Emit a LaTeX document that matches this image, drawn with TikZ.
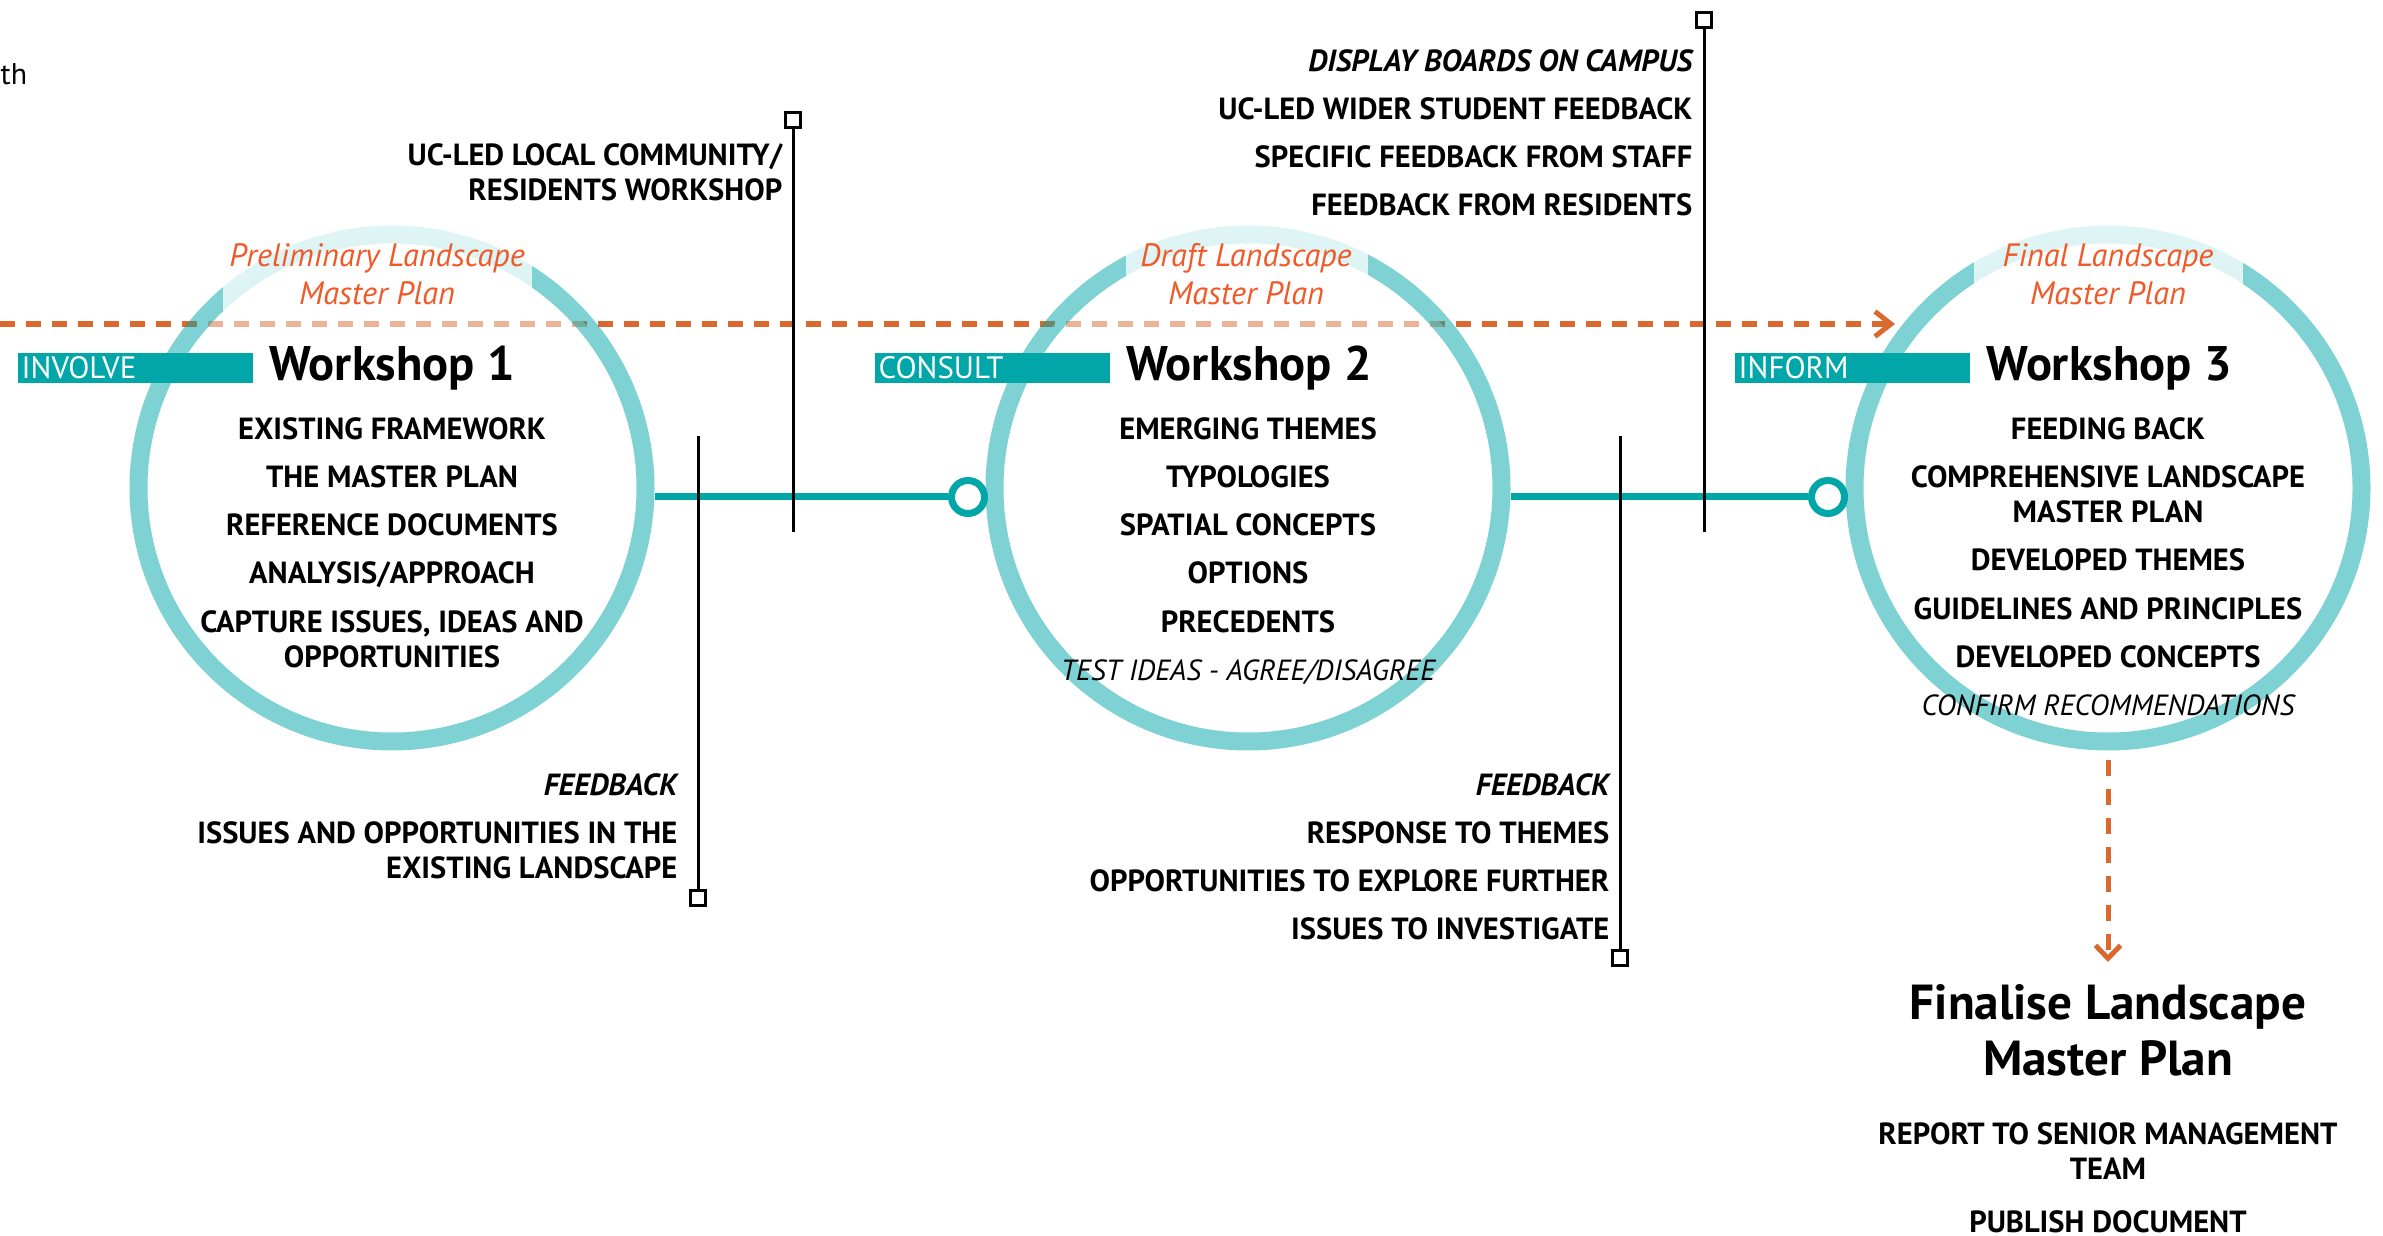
\documentclass[tikz,border=0pt]{standalone}
\usepackage{fontspec}
\setmainfont{PT Sans}
\usetikzlibrary{arrows.meta, positioning}

\definecolor{ucteal}{RGB}{0,166,168}
\definecolor{flow}{RGB}{217,105,47}
\definecolor{plan}{RGB}{240,90,40}

\begin{document}
\begin{tikzpicture}[
        ring/.style={circle, draw=ucteal, draw opacity=.5, line width=0.18cm, fill=white, fill opacity=.5, minimum size=5.07cm, inner sep=0},
        stop/.style={circle, draw=ucteal, line width=0.07cm, fill=white, minimum size=0.33cm, inner sep=0},
        tick/.style={rectangle, draw, line width=0.03cm, fill=white, minimum size=0.15cm, inner sep=0},
        tag/.style={fill=ucteal, text=white, font=\fontsize{8.8}{10}\selectfont, text width=2.27cm, align=left, inner xsep=0.04cm, inner ysep=0, minimum height=0.30cm, anchor=west},
        wstitle/.style={font=\fontsize{13.8}{15}\selectfont\bfseries, inner sep=0, anchor=west},
        plantitle/.style={font=\fontsize{9.2}{10.8}\selectfont\itshape, text=plan, align=center, inner sep=0},
        items/.style={font=\fontsize{8.7}{10}\selectfont\bfseries, align=center, inner sep=0, anchor=north},
        notes/.style={font=\fontsize{8.7}{10}\selectfont\bfseries, align=right, inner sep=0, anchor=north east},
        flowline/.style={flow, line width=0.055cm, dash pattern=on 0.15cm off 0.11cm},
        link/.style={ucteal, line width=0.07cm},
        callout/.style={line width=0.03cm}
    ]
        \useasboundingbox (0,0) rectangle (23.83,-12.36);

        \node[font=\fontsize{8.5}{10}\selectfont, inner sep=0, anchor=west] (th) at (0,-0.74) {th};

        % flow of the plan
        \coordinate (d0) at (0,-3.24);
        \coordinate (d1) at (18.95,-3.24);
        \draw[flowline, -{Straight Barb[length=0.16cm, width=0.25cm, line width=0.05cm]}] (d0) -- (d1);

        % workshops
        \node[ring] (w1) at (3.92,-4.88) {};
        \node[ring] (w2) at (12.48,-4.88) {};
        \node[ring] (w3) at (21.08,-4.88) {};

        \fill[white, opacity=.75] (2.23,-2.15) rectangle (5.32,-3.12);
        \fill[white, opacity=.75] (11.26,-2.15) rectangle (13.68,-3.12);
        \fill[white, opacity=.75] (19.74,-2.15) rectangle (22.43,-3.12);

        \node[plantitle] (p1) at (3.77,-2.74) {Preliminary Landscape\\Master Plan};
        \node[plantitle] (p2) at (12.46,-2.74) {Draft Landscape\\Master Plan};
        \node[plantitle] (p3) at (21.08,-2.74) {Final Landscape\\Master Plan};

        \node[tag] (t1) at (0.17,-3.68) {INVOLVE};
        \node[tag] (t2) at (8.74,-3.68) {CONSULT};
        \node[tag] (t3) at (17.34,-3.68) {INFORM};

        \node[wstitle] (n1) at (2.69,-3.68) {Workshop 1};
        \node[wstitle] (n2) at (11.26,-3.68) {Workshop 2};
        \node[wstitle] (n3) at (19.86,-3.68) {Workshop 3};

        \node[items] (i1) at (3.92,-4.17) {EXISTING FRAMEWORK\\[3.7pt]
            THE MASTER PLAN\\[3.7pt]
            REFERENCE DOCUMENTS\\[3.7pt]
            ANALYSIS/APPROACH\\[3.7pt]
            CAPTURE ISSUES, IDEAS AND\\
            OPPORTUNITIES};
        \node[items] (i2) at (12.48,-4.17) {EMERGING THEMES\\[3.7pt]
            TYPOLOGIES\\[3.7pt]
            SPATIAL CONCEPTS\\[3.7pt]
            OPTIONS\\[3.7pt]
            PRECEDENTS\\[3.7pt]
            {\fontsize{8.3}{10}\selectfont\mdseries\itshape TEST IDEAS - AGREE/DISAGREE}};
        \node[items] (i3) at (21.08,-4.17) {FEEDING BACK\\[3.7pt]
            COMPREHENSIVE LANDSCAPE\\
            MASTER PLAN\\[3.7pt]
            DEVELOPED THEMES\\[3.7pt]
            GUIDELINES AND PRINCIPLES\\[3.7pt]
            DEVELOPED CONCEPTS\\[3.7pt]
            {\fontsize{8.3}{10}\selectfont\mdseries\itshape CONFIRM RECOMMENDATIONS}};

        % links between workshops
        \node[stop] (s1) at (9.68,-4.97) {};
        \node[stop] (s2) at (18.28,-4.97) {};
        \draw[link] (s1 -| w1.east) -- (s1);
        \draw[link] (s2 -| w2.east) -- (s2);

        % engagement in between
        \node[tick] (q1) at (7.93,-1.20) {};
        \coordinate (q1e) at (7.93,-5.32);
        \node[tick] (q2) at (6.98,-8.98) {};
        \coordinate (q2e) at (6.98,-4.36);
        \node[tick] (q3) at (17.04,-0.20) {};
        \coordinate (q3e) at (17.04,-5.32);
        \node[tick] (q4) at (16.20,-9.58) {};
        \coordinate (q4e) at (16.20,-4.36);
        \draw[callout] (q1) -- (q1e)
            (q2) -- (q2e)
            (q3) -- (q3e)
            (q4) -- (q4e);

        \node[notes] (c1) at (7.83,-1.43) {UC-LED LOCAL COMMUNITY/\\RESIDENTS WORKSHOP};
        \node[notes] (c2) at (6.78,-7.73) {{\itshape FEEDBACK}\\[3.7pt]
            ISSUES AND OPPORTUNITIES IN THE\\
            EXISTING LANDSCAPE};
        \node[notes] (c3) at (16.93,-0.49) {{\itshape DISPLAY BOARDS ON CAMPUS}\\[3.7pt]
            UC-LED WIDER STUDENT FEEDBACK\\[3.7pt]
            SPECIFIC FEEDBACK FROM STAFF\\[3.7pt]
            FEEDBACK FROM RESIDENTS};
        \node[notes] (c4) at (16.10,-7.73) {{\itshape FEEDBACK}\\[3.7pt]
            RESPONSE TO THEMES\\[3.7pt]
            OPPORTUNITIES TO EXPLORE FURTHER\\[3.7pt]
            ISSUES TO INVESTIGATE};

        % final step
        \coordinate (f0) at (21.08,-7.60);
        \coordinate (f1) at (21.08,-9.62);
        \draw[flowline, line width=0.05cm, dash pattern=on 0.16cm off 0.13cm, -{Straight Barb[length=0.13cm, width=0.25cm, line width=0.05cm]}] (f0) -- (f1);

        \node[font=\fontsize{14}{16}\selectfont\bfseries, align=center, inner sep=0, anchor=north] (fin) at (21.08,-9.84) {Finalise Landscape\\Master Plan};
        \node[items] (i4) at (21.08,-11.22) {REPORT TO SENIOR MANAGEMENT\\
            TEAM\\[5pt]
            PUBLISH DOCUMENT};
    \end{tikzpicture}
\end{document}
